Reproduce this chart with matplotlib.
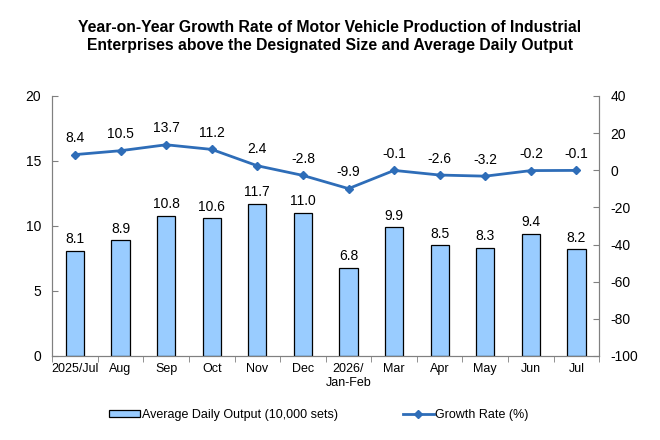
import matplotlib.pyplot as plt
import numpy as np

months = ["2025/Jul", "Aug", "Sep", "Oct", "Nov", "Dec", "2026/\nJan-Feb",
          "Mar", "Apr", "May", "Jun", "Jul"]
daily_output = [8.1, 8.9, 10.8, 10.6, 11.7, 11.0, 6.8, 9.9, 8.5, 8.3, 9.4, 8.2]
growth_rate = [8.4, 10.5, 13.7, 11.2, 2.4, -2.8, -9.9, -0.1, -2.6, -3.2, -0.2, -0.1]

plt.rcParams['font.family'] = ['Liberation Sans', 'DejaVu Sans']
plt.rcParams['axes.unicode_minus'] = False

fig = plt.figure(figsize=(6.6, 4.4), dpi=100)
ax = fig.add_axes([0.079, 0.191, 0.829, 0.591])
ax2 = ax.twinx()

x = np.arange(len(months))
ax.bar(x, daily_output, width=0.4, color="#99CCFF", edgecolor="black", linewidth=0.9,
       label="Average Daily Output (10,000 sets)", zorder=2)
for xi, v in zip(x, daily_output):
    ax.text(xi, v + 0.35, f"{v:.1f}", ha="center", va="bottom", fontsize=10)

ax2.plot(x, growth_rate, color="#2E6DB8", linewidth=2, marker="D", markersize=4,
         label="Growth Rate (%)", zorder=3)
for xi, v in zip(x, growth_rate):
    ax2.text(xi, v + 5, f"{v:.1f}", ha="center", va="bottom", fontsize=10)

ax.set_xlim(-0.5, len(months) - 0.5)
ax.set_ylim(0, 20)
ax.set_yticks(range(0, 21, 5))
ax2.set_ylim(-100, 40)
ax2.set_yticks(range(-100, 41, 20))

ax.set_xticks(x)
ax.set_xticklabels(months, fontsize=9)
ax.set_xticks(np.arange(-0.5, len(months), 1), minor=True)
ax.tick_params(axis="x", which="major", length=0, pad=5)
ax.tick_params(axis="x", which="minor", length=4, color="#808080")
ax.tick_params(axis="y", labelsize=10, color="#808080", length=4, direction="in", pad=8)
ax2.tick_params(axis="y", labelsize=10, color="#808080", length=4, direction="in", pad=8)

for a in (ax, ax2):
    a.spines["top"].set_visible(False)
    for s in ("left", "right", "bottom"):
        a.spines[s].set_color("#808080")

ax.set_zorder(ax2.get_zorder() + 1)
ax.patch.set_visible(False)

h1, l1 = ax.get_legend_handles_labels()
h2, l2 = ax2.get_legend_handles_labels()
fig.legend(h1 + h2, l1 + l2, loc="center", bbox_to_anchor=(0.483, 0.057), ncol=2,
           frameon=False, fontsize=9, columnspacing=5.2, handlelength=2.5,
           handleheight=0.6, handletextpad=0.1)

fig.suptitle("Year-on-Year Growth Rate of Motor Vehicle Production of Industrial\n"
             "Enterprises above the Designated Size and Average Daily Output",
             fontsize=11.3, fontweight="bold", y=0.955, linespacing=1.3)

fig.savefig("out.png", dpi=100)
